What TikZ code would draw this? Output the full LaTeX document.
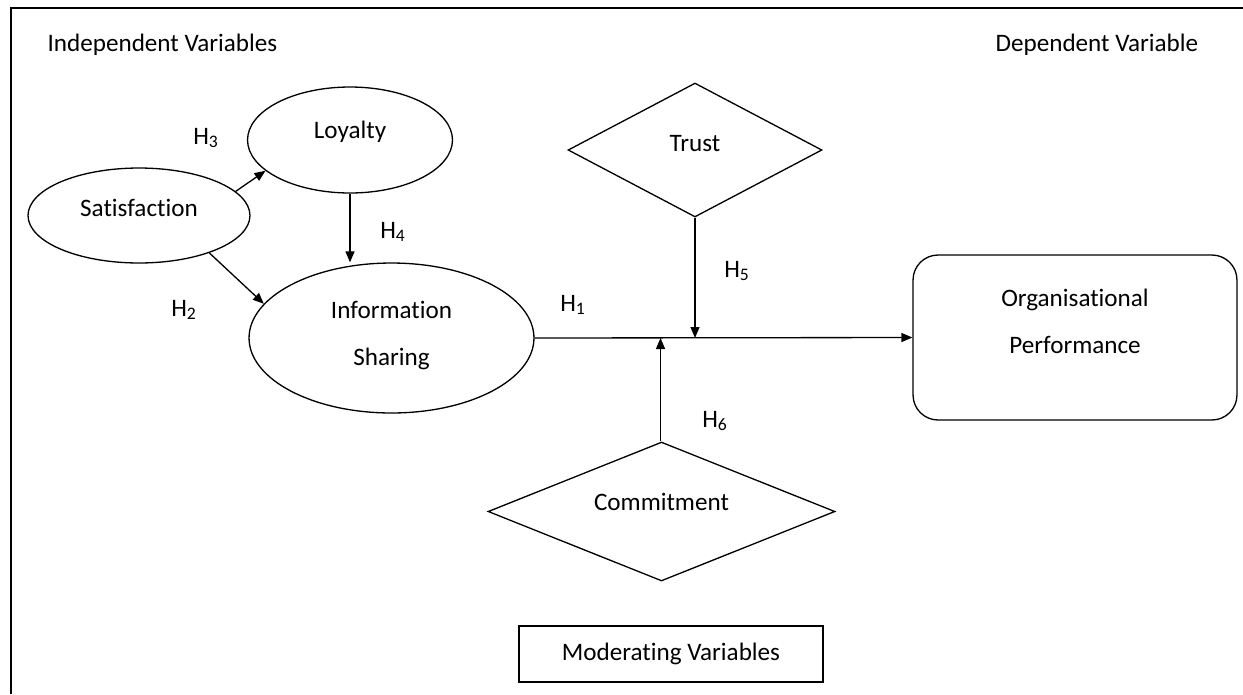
\documentclass[tikz,border=0pt]{standalone}
\usepackage{fontspec}
\setmainfont{Carlito}[Ligatures=CommonOff]
\usetikzlibrary{shapes.geometric,arrows.meta}

\newcommand{\hyp}[1]{H\textsubscript{#1}}

\begin{document}
\begin{tikzpicture}[x=0.02cm,y=-0.02cm,font=\fontsize{14.3}{17.2}\selectfont,line width=0.75pt]

\tikzstyle{var}=[draw,ellipse,inner sep=0pt]
\tikzstyle{moderator}=[draw,diamond,inner sep=0pt,aspect=2.2]
\tikzstyle{arrow}=[-{Triangle[length=2.2mm,width=1.8mm]}]

\useasboundingbox (0,0) rectangle (1243,694);
\draw[line width=1pt] (11,694) -- (11,8) -- (1243,8);

\node[anchor=west,inner sep=0pt] (indep) at (47,45) {Independent Variables};
\node[anchor=west,inner sep=0pt] (dep) at (995,45) {Dependent Variable};

\node[var,minimum width=4.44cm,minimum height=1.9cm,text height=0.4cm,text depth=0.38cm] (sat) at (139,215.5) {Satisfaction};
\node[var,minimum width=4.1cm,minimum height=2.12cm,text height=0.4cm,text depth=0.48cm] (loy) at (350,140) {Loyalty};
\node[var,minimum width=5.7cm,minimum height=3cm,align=center,text height=1.18cm,text depth=0.1cm] (is) at (391.5,338) {Information\\[9.5pt]Sharing};

\node[moderator,minimum width=5.08cm,minimum height=2.68cm,text height=0.4cm,text depth=0.36cm] (trust) at (695,150) {Trust};
\node[moderator,minimum width=6.94cm,minimum height=2.78cm,text height=0.4cm,text depth=0.46cm] (com) at (661.5,511.5) {Commitment};

\node[draw,rounded corners=0.5cm,minimum width=6.48cm,minimum height=3.3cm,align=center,text height=0.72cm,text depth=0.1cm] (op) at (1075,337.5) {Organisational\\[9.5pt]Performance};
\node[draw,minimum width=6.08cm,minimum height=1.12cm] (mod) at (671,654) {Moderating Variables};

\draw[arrow] (sat.14) -- (loy.200);
\draw[arrow] (sat.-28) -- (is.165);
\draw[arrow] (loy.south) -- (loy.south |- is.north);
\draw[arrow] (is.east) -- (op.west);
\draw[arrow] (trust.south) -- (trust.south |- is.east);
\draw[arrow] ([xshift=-0.02cm]com.north) -- ([xshift=-0.02cm]com.north |- is.east);

\node (h3) at (206,138) {\hyp{3}};
\node (h4) at (393,232) {\hyp{4}};
\node (h2) at (184,310) {\hyp{2}};
\node (h1) at (573,305) {\hyp{1}};
\node (h5) at (737,271) {\hyp{5}};
\node (h6) at (715,421) {\hyp{6}};

\end{tikzpicture}
\end{document}
